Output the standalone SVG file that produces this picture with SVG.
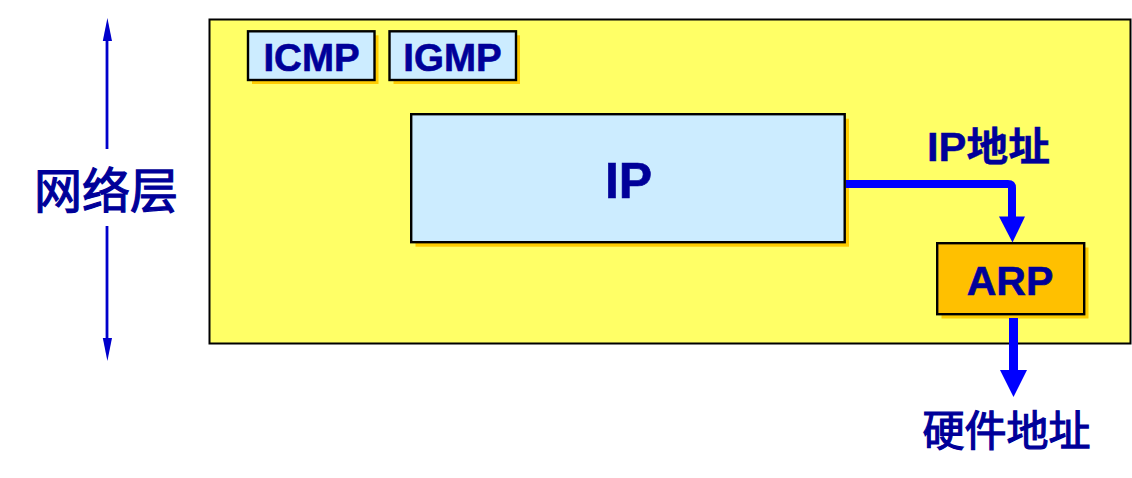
<svg xmlns="http://www.w3.org/2000/svg" width="1132" height="478" viewBox="0 0 1132 478">
  <style>
    .box { stroke: #000000; stroke-width: 2.4; }
    .shadow { fill: #FFCC00; stroke: none; }
    .proto { fill: #CCECFF; }
    .lat { font-family: "Liberation Sans", Arial, sans-serif; font-weight: bold; fill: #000099; stroke: #000099; stroke-width: 0.6; text-anchor: middle; }
    .cjk { font-family: "Noto Sans CJK SC", sans-serif; fill: #000099; stroke: #000099; stroke-width: 1.2; text-anchor: middle; }
    .flow { stroke: #0000FF; fill: none; stroke-linejoin: round; }
    .head { fill: #0000FF; stroke: none; }
    .scope { stroke: #0000CC; stroke-width: 2.8; fill: none; }
    .scopehead { fill: #0000CC; stroke: none; }
  </style>
  <rect width="1132" height="478" fill="#FFFFFF"/>

  <g id="network-layer-box">
    <rect x="209.5" y="19.5" width="921" height="324" fill="#FFFF66" stroke="#000000" stroke-width="2"/>
  </g>

  <g id="icmp">
    <rect class="shadow" x="252" y="35.3" width="126.5" height="48.7"/>
    <rect class="box proto" x="248" y="31.3" width="126.5" height="48.7"/>
    <text class="lat" x="311.5" y="71" font-size="38.5">ICMP</text>
  </g>

  <g id="igmp">
    <rect class="shadow" x="393.5" y="35.3" width="126.5" height="48.7"/>
    <rect class="box proto" x="389.5" y="31.3" width="126.5" height="48.7"/>
    <text class="lat" x="452.5" y="71" font-size="38.5">IGMP</text>
  </g>

  <g id="ip">
    <rect class="shadow" x="415.5" y="118.7" width="433.5" height="128"/>
    <rect class="box proto" x="411.2" y="114.2" width="433.5" height="128"/>
    <text class="lat" x="628.5" y="197.7" font-size="50" stroke-width="0.7">IP</text>
  </g>

  <g id="arp">
    <rect class="shadow" x="941.5" y="247.5" width="147" height="71"/>
    <rect class="box" x="937.2" y="243.2" width="147" height="71" fill="#FFC000"/>
    <text class="lat" x="1010" y="295" font-size="41">ARP</text>
  </g>

  <g id="label-ip-address">
    <text x="988.5" y="161" font-size="40" fill="#000099" stroke="#000099" stroke-width="0.4" text-anchor="middle" textLength="123" lengthAdjust="spacingAndGlyphs"><tspan font-family="Liberation Sans, Arial, sans-serif" font-weight="bold">IP</tspan><tspan font-family="Noto Sans CJK SC, sans-serif" font-weight="bold">地址</tspan></text>
  </g>

  <g id="label-hardware-address">
    <text class="cjk" x="1006.5" y="445.5" font-size="42" stroke-width="1">硬件地址</text>
  </g>

  <g id="label-network-layer">
    <text class="cjk" x="106" y="208" font-size="48">网络层</text>
  </g>

  <g id="connectors">
    <path class="flow" stroke-width="8" d="M846,184 H1008 Q1012,184 1012,188 V219"/>
    <polygon class="head" points="999,216.5 1025,216.5 1012.5,242.5"/>
    <path class="flow" stroke-width="9" d="M1013.5,318 V372"/>
    <polygon class="head" points="1000,370 1027,370 1013.5,397"/>
    <path class="scope" d="M107,38 V149"/>
    <polygon class="scopehead" points="102.8,41 112,41 107.4,18"/>
    <path class="scope" d="M107,226 V341"/>
    <polygon class="scopehead" points="102.8,338 112,338 107.4,361"/>
  </g>
</svg>
